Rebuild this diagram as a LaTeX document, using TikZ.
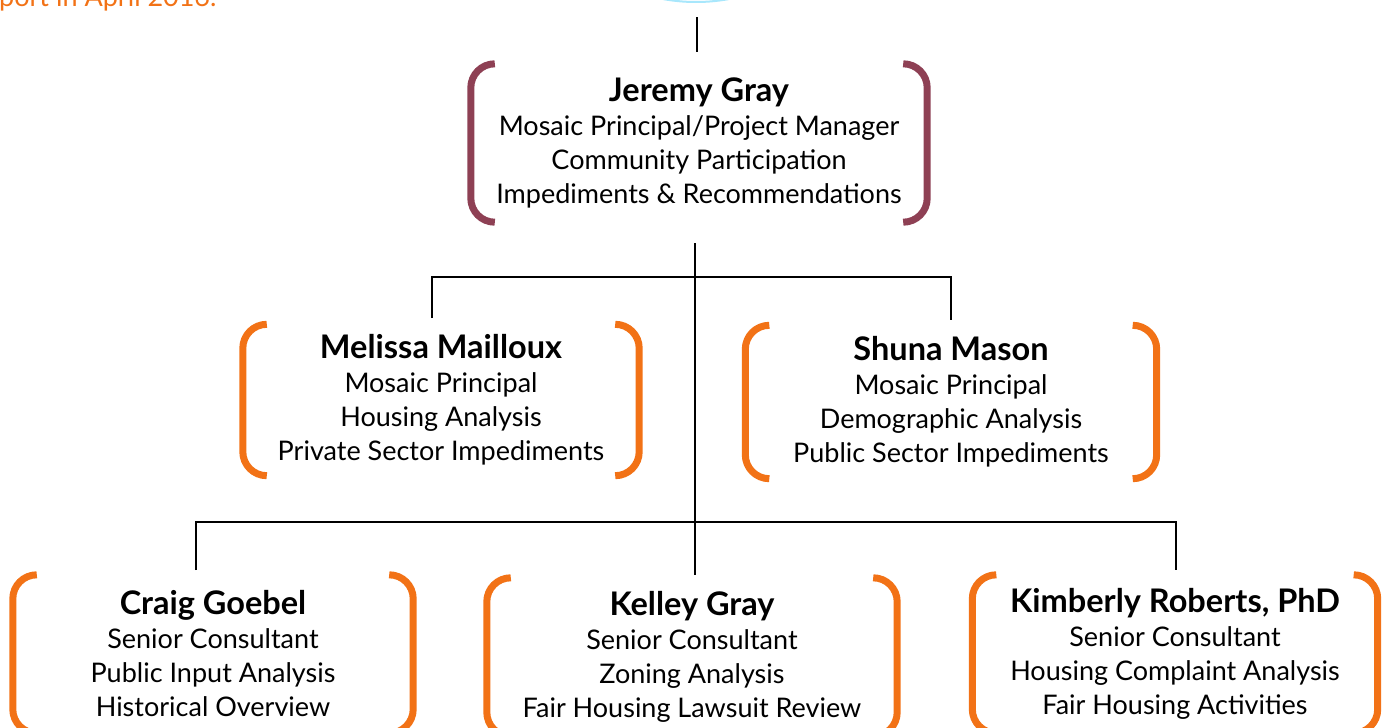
\documentclass[tikz,border=0pt]{standalone}
\usepackage{fontspec}
\setmainfont{Lato}
\definecolor{plum}{RGB}{142,64,84}
\definecolor{tangerine}{RGB}{242,114,22}
\definecolor{glow}{RGB}{110,215,250}

\newcommand{\who}[1]{{\bfseries\fontsize{32.5}{34}\selectfont #1}}
% round brackets left and right of a person box
\newcommand{\brackets}[2]{%
  \draw[brk, #2] ([xshift=24pt]#1.north west) arc[start angle=90, end angle=180, radius=24pt]
        -- ([yshift=24pt]#1.south west) arc[start angle=180, end angle=270, radius=24pt];
  \draw[brk, #2] ([xshift=-24pt]#1.north east) arc[start angle=90, end angle=0, radius=24pt]
        -- ([yshift=24pt]#1.south east) arc[start angle=0, end angle=-90, radius=24pt];
}

\begin{document}
\begin{tikzpicture}[x=1pt, y=-1pt,
    person/.style 2 args={minimum width=#1pt, minimum height=#2pt, inner sep=0pt,
        align=center, font=\fontsize{27}{34}\selectfont},
    brk/.style={line width=7pt},
    link/.style={line width=1.6pt, black}]

    \useasboundingbox (0,0) rectangle (1395,728);

    % bits of the page above
    \draw[glow!60, line width=2pt] (696,-181) circle[radius=183pt];
    \node[anchor=base west, text=tangerine, font=\fontsize{27}{30}\selectfont, inner sep=0pt] (note) at (-1,6) {port in April 2016.};

    % people
    \node[person={456}{158}] (jeremy) at (699,143) {\who{Jeremy Gray}\\ Mosaic Principal/Project Manager\\ Community Participation\\ Impediments \& Recommendations};
    \node[person={396}{151}] (melissa) at (441,400) {\who{Melissa Mailloux}\\ Mosaic Principal\\ Housing Analysis\\ Private Sector Impediments};
    \node[person={411}{153}] (shuna) at (951,402) {\who{Shuna Mason}\\ Mosaic Principal\\ Demographic Analysis\\ Public Sector Impediments};
    \node[person={400}{158}] (craig) at (213,654) {\who{Craig Goebel}\\ Senior Consultant\\ Public Input Analysis\\ Historical Overview};
    \node[person={410}{158}] (kelley) at (692,657) {\who{Kelley Gray}\\ Senior Consultant\\ Zoning Analysis\\ Fair Housing Lawsuit Review};
    \node[person={405}{158}] (kimberly) at (1175,654) {\who{Kimberly Roberts, PhD}\\ Senior Consultant\\ Housing Complaint Analysis\\ Fair Housing Activities};

    \brackets{jeremy}{plum}
    \foreach \p in {melissa,shuna,craig,kelley,kimberly}{
        \brackets{\p}{tangerine}
    }

    % tree lines
    \coordinate (top) at (697,17);
    \coordinate (hub1) at (695,277);
    \coordinate (hub2) at (695,522);
    \coordinate (m-in) at (432,318);
    \coordinate (s-in) at (951,320);
    \coordinate (c-in) at (196,570);
    \coordinate (k-in) at (1176,570);

    \draw[link, shorten >=12pt] (top) -- (top |- jeremy.north);
    \draw[link, shorten <=21pt, shorten >=3pt] (jeremy.south -| hub1) -- (kelley.north -| hub1);
    \draw[link] (m-in) |- (hub1) -| (s-in);
    \draw[link] (c-in) |- (hub2) -| (k-in);

\end{tikzpicture}
\end{document}
